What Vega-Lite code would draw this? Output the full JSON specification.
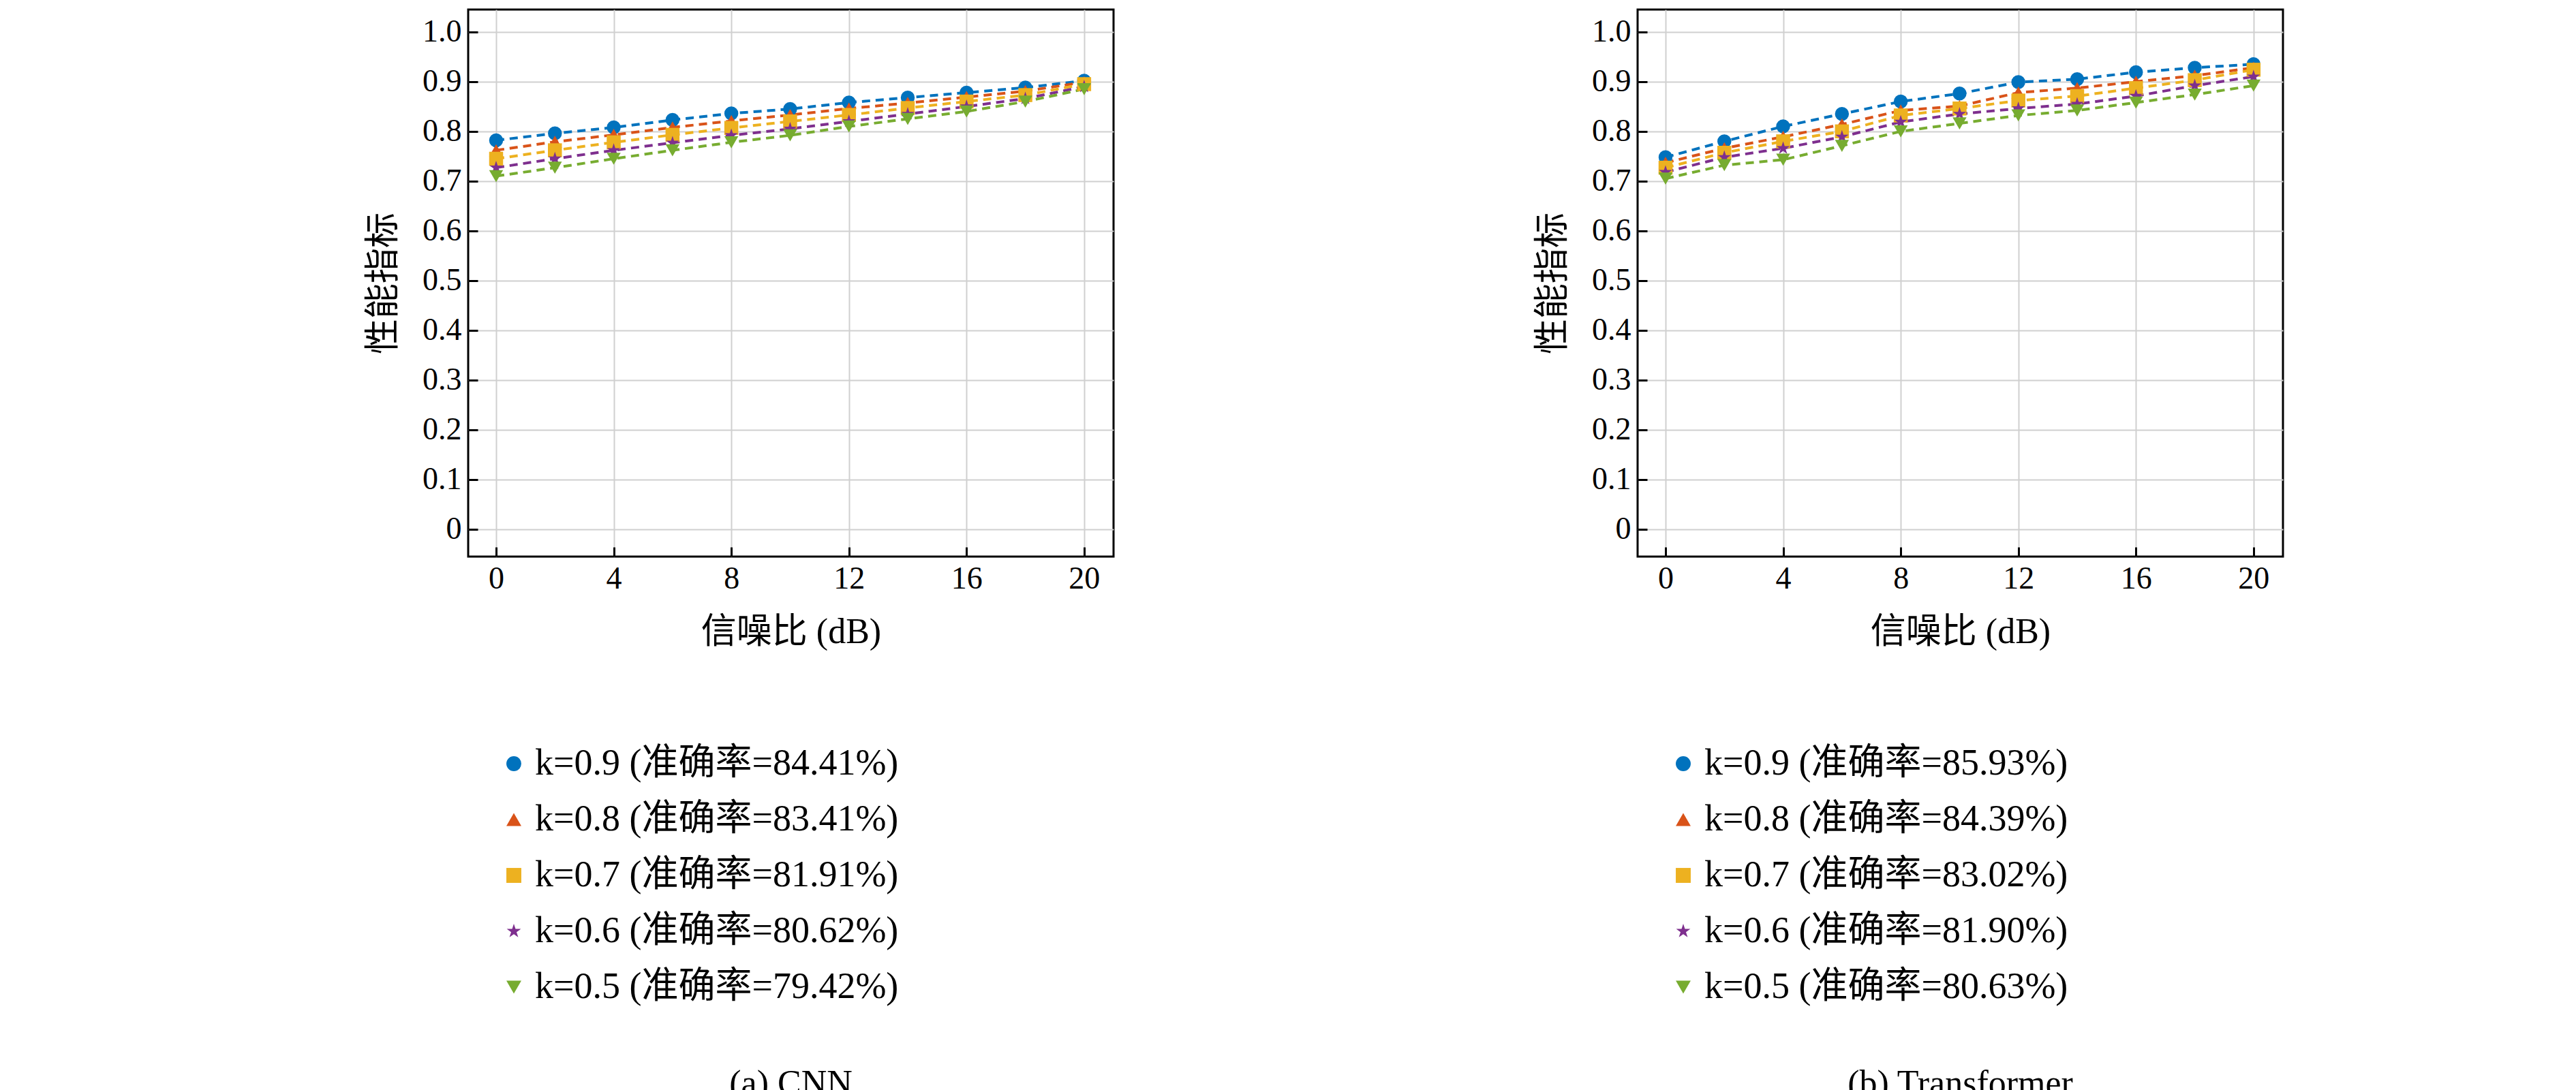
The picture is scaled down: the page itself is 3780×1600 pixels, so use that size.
{
  "$schema": "https://vega.github.io/schema/vega-lite/v6.json",
  "background": "white",
  "padding": {"left": 535, "top": 12, "right": 20, "bottom": 20},
  "config": {
    "font": "Liberation Serif, Noto Sans CJK SC",
    "view": {"stroke": "black", "strokeWidth": 3},
    "axis": {
      "grid": true, "gridColor": "#d0d0d0", "gridWidth": 2,
      "domain": false, "tickColor": "black", "tickWidth": 3, "tickSize": -14,
      "labelFontSize": 46, "labelColor": "black", "labelPadding": 24,
      "titleFontSize": 52, "titleFont": "Liberation Serif, Noto Sans CJK SC", "titleFontWeight": "normal", "titleColor": "black"
    },
    "legend": {"labelFontSize": 54, "labelColor": "black", "labelLimit": 2000, "rowPadding": 28, "symbolSize": 480, "symbolStrokeWidth": 0},
    "title": {"fontSize": 52, "fontWeight": "normal", "color": "black"}
  },
  "data": {"values": [
    {"m": "CNN", "k": "0.9", "x": 0, "y": 0.782}, {"m": "CNN", "k": "0.9", "x": 2, "y": 0.796}, {"m": "CNN", "k": "0.9", "x": 4, "y": 0.808}, {"m": "CNN", "k": "0.9", "x": 6, "y": 0.823}, {"m": "CNN", "k": "0.9", "x": 8, "y": 0.836}, {"m": "CNN", "k": "0.9", "x": 10, "y": 0.845}, {"m": "CNN", "k": "0.9", "x": 12, "y": 0.858}, {"m": "CNN", "k": "0.9", "x": 14, "y": 0.868}, {"m": "CNN", "k": "0.9", "x": 16, "y": 0.878}, {"m": "CNN", "k": "0.9", "x": 18, "y": 0.888}, {"m": "CNN", "k": "0.9", "x": 20, "y": 0.902},
    {"m": "CNN", "k": "0.8", "x": 0, "y": 0.762}, {"m": "CNN", "k": "0.8", "x": 2, "y": 0.779}, {"m": "CNN", "k": "0.8", "x": 4, "y": 0.793}, {"m": "CNN", "k": "0.8", "x": 6, "y": 0.808}, {"m": "CNN", "k": "0.8", "x": 8, "y": 0.821}, {"m": "CNN", "k": "0.8", "x": 10, "y": 0.833}, {"m": "CNN", "k": "0.8", "x": 12, "y": 0.846}, {"m": "CNN", "k": "0.8", "x": 14, "y": 0.857}, {"m": "CNN", "k": "0.8", "x": 16, "y": 0.869}, {"m": "CNN", "k": "0.8", "x": 18, "y": 0.881}, {"m": "CNN", "k": "0.8", "x": 20, "y": 0.899},
    {"m": "CNN", "k": "0.7", "x": 0, "y": 0.745}, {"m": "CNN", "k": "0.7", "x": 2, "y": 0.762}, {"m": "CNN", "k": "0.7", "x": 4, "y": 0.778}, {"m": "CNN", "k": "0.7", "x": 6, "y": 0.793}, {"m": "CNN", "k": "0.7", "x": 8, "y": 0.807}, {"m": "CNN", "k": "0.7", "x": 10, "y": 0.820}, {"m": "CNN", "k": "0.7", "x": 12, "y": 0.833}, {"m": "CNN", "k": "0.7", "x": 14, "y": 0.847}, {"m": "CNN", "k": "0.7", "x": 16, "y": 0.860}, {"m": "CNN", "k": "0.7", "x": 18, "y": 0.873}, {"m": "CNN", "k": "0.7", "x": 20, "y": 0.895},
    {"m": "CNN", "k": "0.6", "x": 0, "y": 0.727}, {"m": "CNN", "k": "0.6", "x": 2, "y": 0.745}, {"m": "CNN", "k": "0.6", "x": 4, "y": 0.762}, {"m": "CNN", "k": "0.6", "x": 6, "y": 0.777}, {"m": "CNN", "k": "0.6", "x": 8, "y": 0.792}, {"m": "CNN", "k": "0.6", "x": 10, "y": 0.805}, {"m": "CNN", "k": "0.6", "x": 12, "y": 0.820}, {"m": "CNN", "k": "0.6", "x": 14, "y": 0.835}, {"m": "CNN", "k": "0.6", "x": 16, "y": 0.850}, {"m": "CNN", "k": "0.6", "x": 18, "y": 0.866}, {"m": "CNN", "k": "0.6", "x": 20, "y": 0.890},
    {"m": "CNN", "k": "0.5", "x": 0, "y": 0.710}, {"m": "CNN", "k": "0.5", "x": 2, "y": 0.727}, {"m": "CNN", "k": "0.5", "x": 4, "y": 0.745}, {"m": "CNN", "k": "0.5", "x": 6, "y": 0.762}, {"m": "CNN", "k": "0.5", "x": 8, "y": 0.778}, {"m": "CNN", "k": "0.5", "x": 10, "y": 0.792}, {"m": "CNN", "k": "0.5", "x": 12, "y": 0.810}, {"m": "CNN", "k": "0.5", "x": 14, "y": 0.825}, {"m": "CNN", "k": "0.5", "x": 16, "y": 0.840}, {"m": "CNN", "k": "0.5", "x": 18, "y": 0.860}, {"m": "CNN", "k": "0.5", "x": 20, "y": 0.885},
    {"m": "Transformer", "k": "0.9", "x": 0, "y": 0.748}, {"m": "Transformer", "k": "0.9", "x": 2, "y": 0.780}, {"m": "Transformer", "k": "0.9", "x": 4, "y": 0.810}, {"m": "Transformer", "k": "0.9", "x": 6, "y": 0.835}, {"m": "Transformer", "k": "0.9", "x": 8, "y": 0.860}, {"m": "Transformer", "k": "0.9", "x": 10, "y": 0.876}, {"m": "Transformer", "k": "0.9", "x": 12, "y": 0.899}, {"m": "Transformer", "k": "0.9", "x": 14, "y": 0.905}, {"m": "Transformer", "k": "0.9", "x": 16, "y": 0.919}, {"m": "Transformer", "k": "0.9", "x": 18, "y": 0.928}, {"m": "Transformer", "k": "0.9", "x": 20, "y": 0.935},
    {"m": "Transformer", "k": "0.8", "x": 0, "y": 0.737}, {"m": "Transformer", "k": "0.8", "x": 2, "y": 0.766}, {"m": "Transformer", "k": "0.8", "x": 4, "y": 0.789}, {"m": "Transformer", "k": "0.8", "x": 6, "y": 0.814}, {"m": "Transformer", "k": "0.8", "x": 8, "y": 0.842}, {"m": "Transformer", "k": "0.8", "x": 10, "y": 0.851}, {"m": "Transformer", "k": "0.8", "x": 12, "y": 0.878}, {"m": "Transformer", "k": "0.8", "x": 14, "y": 0.887}, {"m": "Transformer", "k": "0.8", "x": 16, "y": 0.900}, {"m": "Transformer", "k": "0.8", "x": 18, "y": 0.912}, {"m": "Transformer", "k": "0.8", "x": 20, "y": 0.928},
    {"m": "Transformer", "k": "0.7", "x": 0, "y": 0.727}, {"m": "Transformer", "k": "0.7", "x": 2, "y": 0.757}, {"m": "Transformer", "k": "0.7", "x": 4, "y": 0.780}, {"m": "Transformer", "k": "0.7", "x": 6, "y": 0.800}, {"m": "Transformer", "k": "0.7", "x": 8, "y": 0.832}, {"m": "Transformer", "k": "0.7", "x": 10, "y": 0.846}, {"m": "Transformer", "k": "0.7", "x": 12, "y": 0.862}, {"m": "Transformer", "k": "0.7", "x": 14, "y": 0.871}, {"m": "Transformer", "k": "0.7", "x": 16, "y": 0.887}, {"m": "Transformer", "k": "0.7", "x": 18, "y": 0.903}, {"m": "Transformer", "k": "0.7", "x": 20, "y": 0.924},
    {"m": "Transformer", "k": "0.6", "x": 0, "y": 0.718}, {"m": "Transformer", "k": "0.6", "x": 2, "y": 0.748}, {"m": "Transformer", "k": "0.6", "x": 4, "y": 0.766}, {"m": "Transformer", "k": "0.6", "x": 6, "y": 0.789}, {"m": "Transformer", "k": "0.6", "x": 8, "y": 0.819}, {"m": "Transformer", "k": "0.6", "x": 10, "y": 0.835}, {"m": "Transformer", "k": "0.6", "x": 12, "y": 0.846}, {"m": "Transformer", "k": "0.6", "x": 14, "y": 0.855}, {"m": "Transformer", "k": "0.6", "x": 16, "y": 0.871}, {"m": "Transformer", "k": "0.6", "x": 18, "y": 0.892}, {"m": "Transformer", "k": "0.6", "x": 20, "y": 0.910},
    {"m": "Transformer", "k": "0.5", "x": 0, "y": 0.705}, {"m": "Transformer", "k": "0.5", "x": 2, "y": 0.732}, {"m": "Transformer", "k": "0.5", "x": 4, "y": 0.743}, {"m": "Transformer", "k": "0.5", "x": 6, "y": 0.771}, {"m": "Transformer", "k": "0.5", "x": 8, "y": 0.800}, {"m": "Transformer", "k": "0.5", "x": 10, "y": 0.816}, {"m": "Transformer", "k": "0.5", "x": 12, "y": 0.832}, {"m": "Transformer", "k": "0.5", "x": 14, "y": 0.842}, {"m": "Transformer", "k": "0.5", "x": 16, "y": 0.858}, {"m": "Transformer", "k": "0.5", "x": 18, "y": 0.874}, {"m": "Transformer", "k": "0.5", "x": 20, "y": 0.892}
  ]},
  "spacing": 615,
  "resolve": {"legend": {"color": "independent", "shape": "independent"}},
  "hconcat": [
    {
      "width": 947, "height": 803,
      "title": {"text": "(a) CNN", "orient": "bottom", "offset": 90},
      "transform": [{"filter": "datum.m == 'CNN'"}],
      "encoding": {
        "x": {"field": "x", "type": "quantitative", "title": "信噪比 (dB)", "scale": {"domain": [-0.95, 21]}, "axis": {"values": [0, 4, 8, 12, 16, 20], "titlePadding": 30}},
        "y": {"field": "y", "type": "quantitative", "title": "性能指标", "scale": {"domain": [-0.055, 1.045], "nice": false}, "axis": {"values": [0, 0.1, 0.2, 0.3, 0.4, 0.5, 0.6, 0.7, 0.8, 0.9, 1.0], "labelExpr": "datum.value == 0 ? '0' : format(datum.value, '.1f')", "titlePadding": 30}},
        "color": {"field": "k", "type": "nominal", "sort": ["0.9", "0.8", "0.7", "0.6", "0.5"], "scale": {"domain": ["0.9", "0.8", "0.7", "0.6", "0.5"], "range": ["#0072BD", "#D95319", "#EDB120", "#7E2F8E", "#77AC30"]},
          "legend": {"title": null, "orient": "none", "legendX": 40, "legendY": 1080,
            "labelExpr": "'k=' + datum.label + ' (准确率=' + ({'0.9': '84.41', '0.8': '83.41', '0.7': '81.91', '0.6': '80.62', '0.5': '79.42'})[datum.label] + '%)'"}}
      },
      "layer": [
        {"mark": {"type": "line", "strokeDash": [12, 8], "strokeWidth": 4}},
        {"mark": {"type": "point", "filled": true, "opacity": 1},
          "encoding": {"size": {"value": 420}, "shape": {"field": "k", "type": "nominal", "sort": ["0.9", "0.8", "0.7", "0.6", "0.5"], "scale": {"domain": ["0.9", "0.8", "0.7", "0.6", "0.5"], "range": ["circle", "triangle-up", "square", "M0,-1L0.2245,-0.309L0.951,-0.309L0.363,0.118L0.588,0.809L0,0.382L-0.588,0.809L-0.363,0.118L-0.951,-0.309L-0.2245,-0.309Z", "triangle-down"]}, "legend": null}}}
      ]
    },
    {
      "width": 947, "height": 803,
      "title": {"text": "(b) Transformer", "orient": "bottom", "offset": 90},
      "transform": [{"filter": "datum.m == 'Transformer'"}],
      "encoding": {
        "x": {"field": "x", "type": "quantitative", "title": "信噪比 (dB)", "scale": {"domain": [-0.95, 21]}, "axis": {"values": [0, 4, 8, 12, 16, 20], "titlePadding": 30}},
        "y": {"field": "y", "type": "quantitative", "title": "性能指标", "scale": {"domain": [-0.055, 1.045], "nice": false}, "axis": {"values": [0, 0.1, 0.2, 0.3, 0.4, 0.5, 0.6, 0.7, 0.8, 0.9, 1.0], "labelExpr": "datum.value == 0 ? '0' : format(datum.value, '.1f')", "titlePadding": 30}},
        "color": {"field": "k", "type": "nominal", "sort": ["0.9", "0.8", "0.7", "0.6", "0.5"], "scale": {"domain": ["0.9", "0.8", "0.7", "0.6", "0.5"], "range": ["#0072BD", "#D95319", "#EDB120", "#7E2F8E", "#77AC30"]},
          "legend": {"title": null, "orient": "none", "legendX": 40, "legendY": 1080,
            "labelExpr": "'k=' + datum.label + ' (准确率=' + ({'0.9': '85.93', '0.8': '84.39', '0.7': '83.02', '0.6': '81.90', '0.5': '80.63'})[datum.label] + '%)'"}}
      },
      "layer": [
        {"mark": {"type": "line", "strokeDash": [12, 8], "strokeWidth": 4}},
        {"mark": {"type": "point", "filled": true, "opacity": 1},
          "encoding": {"size": {"value": 420}, "shape": {"field": "k", "type": "nominal", "sort": ["0.9", "0.8", "0.7", "0.6", "0.5"], "scale": {"domain": ["0.9", "0.8", "0.7", "0.6", "0.5"], "range": ["circle", "triangle-up", "square", "M0,-1L0.2245,-0.309L0.951,-0.309L0.363,0.118L0.588,0.809L0,0.382L-0.588,0.809L-0.363,0.118L-0.951,-0.309L-0.2245,-0.309Z", "triangle-down"]}, "legend": null}}}
      ]
    }
  ]
}
